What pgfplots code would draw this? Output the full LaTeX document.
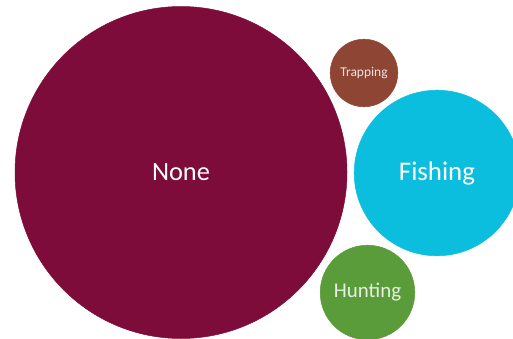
\documentclass[border=0pt]{standalone}
\usepackage{pgfplots}
\pgfplotsset{compat=1.18}
\usepackage{fontspec}
\setmainfont{Carlito}
\definecolor{cNone}{HTML}{7E0C3A}
\definecolor{cTrap}{HTML}{8E4533}
\definecolor{cFish}{HTML}{0CBEDE}
\definecolor{cHunt}{HTML}{5A9B3A}
\begin{document}
\begin{tikzpicture}
\begin{axis}[name=ax,
  width=513bp, height=339bp, scale only axis,
  xmin=0, xmax=513, ymin=0, ymax=339, y dir=reverse,
  hide axis, clip mode=global,
  nodes near coords, point meta=explicit symbolic,
  every node near coord/.style={anchor=center, text=white},
]
\addplot[color=cNone, only marks, mark=*, mark size=166bp, mark options={draw=cNone, fill=cNone, line width=0.5pt},
  every node near coord/.append style={font=\fontsize{26.5}{27}\selectfont, text=white}]
  coordinates {(181,172.5) [None]};
\addplot[color=cTrap, only marks, mark=*, mark size=33.8bp, mark options={draw=cTrap, fill=cTrap, line width=0.5pt},
  every node near coord/.append style={font=\fontsize{13.5}{14}\selectfont, text=white!85!cTrap}]
  coordinates {(364,73) [Trapping]};
\addplot[color=cFish, only marks, mark=*, mark size=82.8bp, mark options={draw=cFish, fill=cFish, line width=0.5pt},
  every node near coord/.append style={font=\fontsize{27}{27}\selectfont, text=white}]
  coordinates {(437,173) [Fishing]};
\addplot[color=cHunt, only marks, mark=*, mark size=47.3bp, mark options={draw=cHunt, fill=cHunt, line width=0.5pt},
  every node near coord/.append style={font=\fontsize{21}{21}\selectfont, text=white!85!cHunt}]
  coordinates {(367.5,292.5) [Hunting]};
\end{axis}
\pgfresetboundingbox
\path (ax.south west) rectangle (ax.north east);
\end{tikzpicture}
\end{document}
